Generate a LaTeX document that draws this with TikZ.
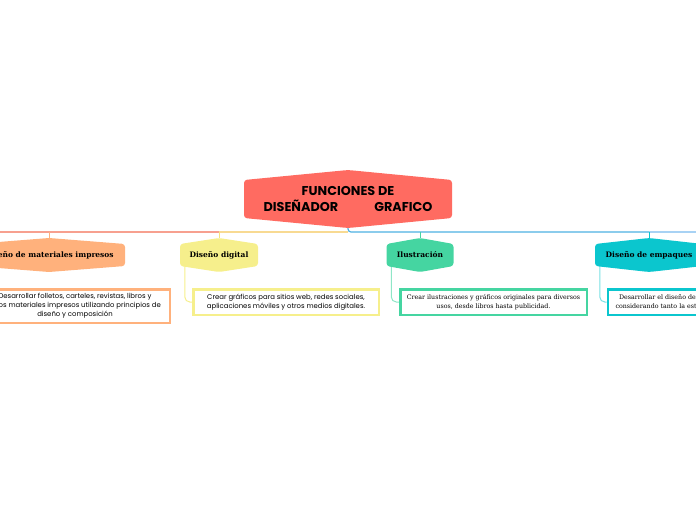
\documentclass[tikz,border=0pt]{standalone}
\usepackage{fontspec}
\newfontfamily\headfont{Poppins}
\newfontfamily\labelfont{DejaVu Serif}
\newfontfamily\sansnote{Poppins}
\newfontfamily\serifnote{DejaVu Serif}
\definecolor{rootred}{HTML}{FF6B61}
\definecolor{matorange}{HTML}{FFB17C}
\definecolor{digyellow}{HTML}{F6EF8C}
\definecolor{ilugreen}{HTML}{45D5A1}
\definecolor{empteal}{HTML}{0BC6CE}
\definecolor{linesalmon}{HTML}{F7A08F}
\definecolor{lineyellow}{HTML}{F8DA92}
\definecolor{lineblue}{HTML}{4DB1E2}
\definecolor{linelight}{HTML}{A8D2F4}
\pgfdeclarelayer{background}
\pgfsetlayers{background,main}

\begin{document}
\begin{tikzpicture}[x=1pt,y=-1pt,
    hexa/.style 2 args={inner sep=0pt, align=center, path picture={
        \fill[#1, rounded corners=3pt]
            ([yshift=-#2]path picture bounding box.north west)
            -- (path picture bounding box.north)
            -- ([yshift=-#2]path picture bounding box.north east)
            -- ([yshift=#2]path picture bounding box.south east)
            -- (path picture bounding box.south)
            -- ([yshift=#2]path picture bounding box.south west) -- cycle;}},
    branch/.style={hexa={#1}{6pt}, minimum height=34pt, font=\labelfont\bfseries\fontsize{7.5}{9}\selectfont},
    note/.style={draw=#1, line width=2.5pt, fill=white, inner sep=0pt, align=center, minimum height=25.5pt},
    trunk/.style={line width=1.2pt, rounded corners=3pt},
    twig/.style={line width=1pt, rounded corners=5pt}]
    \path[use as bounding box] (0,0) rectangle (696,520);
    \clip (0,0) rectangle (696,520);

    % central topic
    \node[hexa={rootred}{10pt}, minimum width=208pt, minimum height=58pt,
        font=\headfont\bfseries\fontsize{12.8}{16}\selectfont] (root) at (348,199)
        {FUNCIONES DE\\DISEÑADOR\hspace{36pt}GRAFICO};

    % main branches
    \node[branch=matorange, minimum width=152pt] (mat) at (49,255) {Diseño de materiales impresos};
    \node[branch=digyellow, minimum width=78pt] (dig) at (219,255) {Diseño digital};
    \node[branch=ilugreen, minimum width=67pt] (ilu) at (420,255) {Ilustración};
    \node[branch=empteal, minimum width=108pt] (emp) at (649,255) {Diseño de empaques};

    % details
    \node[note=matorange, minimum width=189.5pt, minimum height=33.5pt,
        font=\sansnote\fontsize{6.9}{8.8}\selectfont] (matnote) at (75,306)
        {Desarrollar folletos, carteles, revistas, libros y\\otros materiales impresos utilizando principios de\\diseño y composición};
    \node[note=digyellow, minimum width=185.5pt,
        font=\sansnote\fontsize{6.9}{9}\selectfont] (dignote) at (286,302)
        {Crear gráficos para sitios web, redes sociales,\\aplicaciones móviles y otros medios digitales.};
    \node[note=ilugreen, minimum width=186.5pt,
        font=\serifnote\fontsize{6.3}{9}\selectfont] (ilunote) at (493.5,302)
        {Crear ilustraciones y gráficos originales para diversos\\usos, desde libros hasta publicidad.};
    \node[note=empteal, minimum width=186.5pt,
        font=\serifnote\fontsize{6.3}{9}\selectfont] (empnote) at (701,302)
        {Desarrollar el diseño de empaques para productos,\\considerando tanto la estética como la funcionalidad.};

    \coordinate (hub) at (348,232);
    \coordinate (leftend) at (-20,232);
    \coordinate (rightend) at (720,232);

    \begin{pgfonlayer}{background}
        \draw[trunk, lineblue] (root.south) -- (hub) -- (hub -| ilu) -- (hub -| emp);
        \draw[trunk, linelight] (hub -| emp) -- (rightend);
        \draw[trunk, lineyellow] (hub) -- (hub -| dig);
        \draw[trunk, linesalmon] (hub -| dig) -- (hub -| mat) -- (leftend);
        \draw[twig, matorange] (hub -| mat) -- (mat.north);
        \draw[twig, digyellow!90!orange] (hub -| dig) -- (dig.north);
        \draw[twig, ilugreen] (hub -| ilu) -- (ilu.north);
        \draw[twig, empteal] (hub -| emp) -- (emp.north);
        % to the details
        \draw[twig, matorange!70] ([xshift=5pt,yshift=6pt]mat.south west) |- (matnote.west);
        \draw[twig, digyellow] ([xshift=5pt,yshift=6pt]dig.south west) |- (dignote.west);
        \draw[twig, ilugreen!60] ([xshift=5pt,yshift=6pt]ilu.south west) |- (ilunote.west);
        \draw[twig, empteal!55] ([xshift=5pt,yshift=6pt]emp.south west) |- (empnote.west);
    \end{pgfonlayer}
\end{tikzpicture}
\end{document}
